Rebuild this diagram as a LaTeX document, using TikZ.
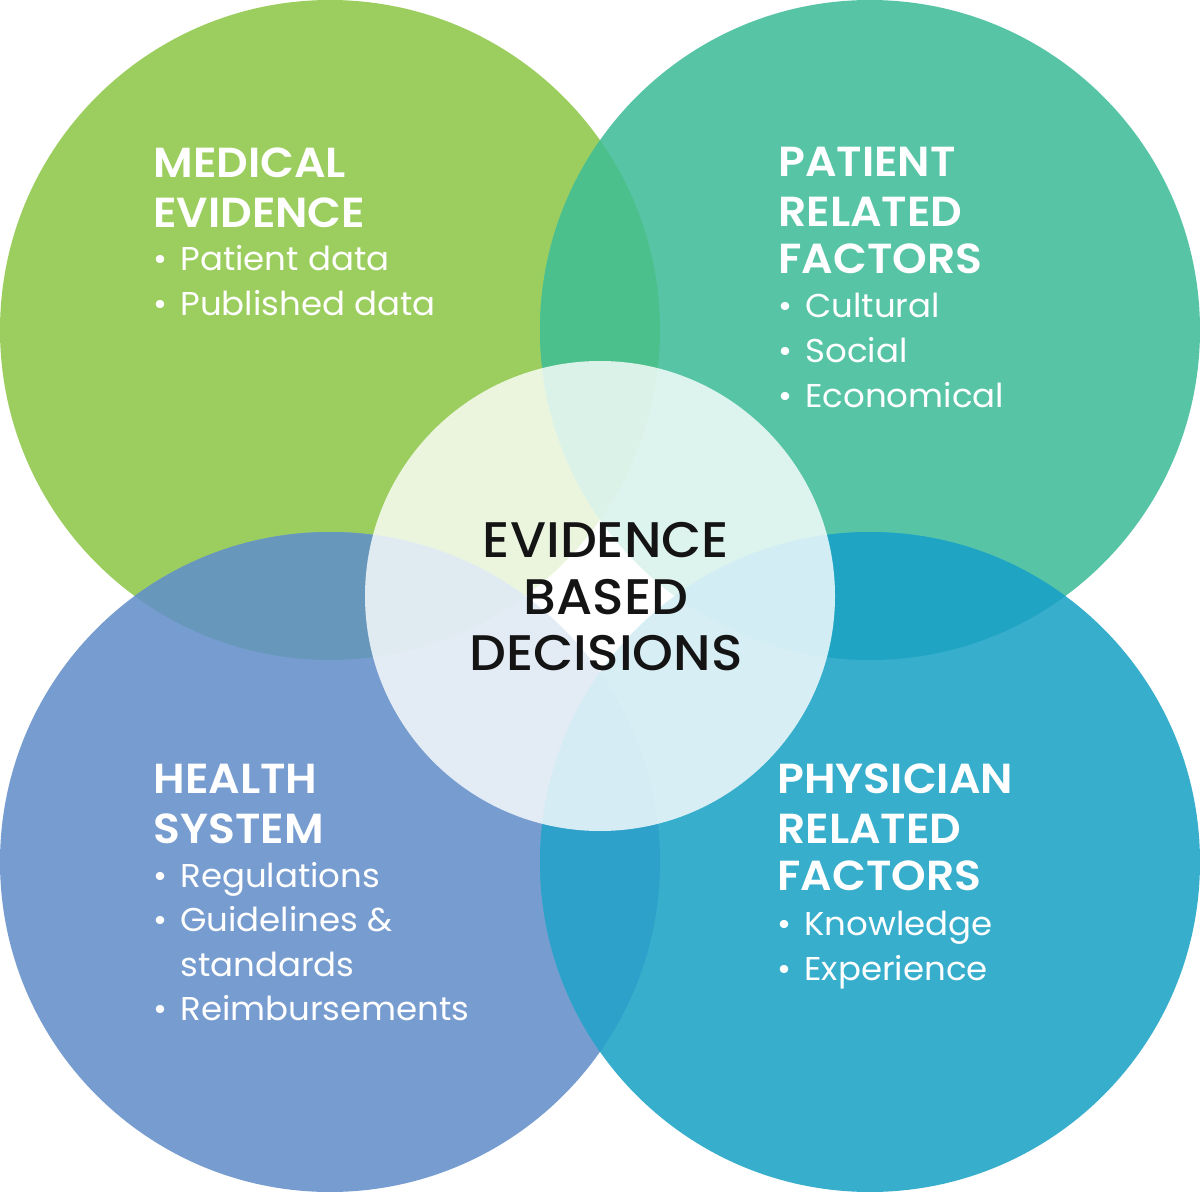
\documentclass[tikz,border=0pt]{standalone}
\usepackage{fontspec}
\setmainfont{Poppins}
\newfontfamily\headfont{Poppins SemiBold}[FakeStretch=1.05]
\newfontfamily\itemfont{Poppins}[FakeStretch=1.03]
\newfontfamily\medfont{Poppins Medium}[FakeStretch=1.04]
\definecolor{cgreen}{HTML}{9BCE5E}
\definecolor{cteal}{HTML}{57C5A5}
\definecolor{cblue}{HTML}{779DD0}
\definecolor{ccyan}{HTML}{36AECC}
\definecolor{cgt}{HTML}{4CC08C}
\definecolor{cgb}{HTML}{6897BC}
\definecolor{ctc}{HTML}{1FA5C3}
\definecolor{cbc}{HTML}{2EA1CA}
\tikzset{
  head/.style={anchor=base west, inner sep=0pt, text=white, font=\fontsize{21}{25}\headfont},
  item/.style={anchor=base west, inner sep=0pt, text=white, font=\fontsize{16.5}{20}\itemfont},
  ctr/.style={anchor=base, inner sep=0pt, text=black!92, font=\fontsize{25}{30}\medfont},
}
\newcommand{\bul}[1]{\makebox[13.5pt][l]{•}#1}
\begin{document}
\begin{tikzpicture}[x=0.5pt,y=-0.5pt]
\useasboundingbox (0,0) rectangle (1200,1192);
\coordinate (G) at (330,330);
\coordinate (T) at (870,330);
\coordinate (B) at (330,862);
\coordinate (C) at (870,862);
\coordinate (M) at (600,596);
\fill[cgreen] (G) circle[radius=165pt];
\fill[cteal] (T) circle[radius=165pt];
\fill[cblue] (B) circle[radius=165pt];
\fill[ccyan] (C) circle[radius=165pt];
\begin{scope}
  \clip (G) circle[radius=165pt];
  \fill[cgt] (T) circle[radius=165pt];
\end{scope}
\begin{scope}
  \clip (G) circle[radius=165pt];
  \fill[cgb] (B) circle[radius=165pt];
\end{scope}
\begin{scope}
  \clip (T) circle[radius=165pt];
  \fill[ctc] (C) circle[radius=165pt];
\end{scope}
\begin{scope}
  \clip (B) circle[radius=165pt];
  \fill[cbc] (C) circle[radius=165pt];
\end{scope}
\fill[white, opacity=0.8] (M) circle[radius=117.5pt];
% Medical evidence
\node[head] (g1) at (153,178) {MEDICAL};
\node[head] (g2) at (153,228) {EVIDENCE};
\node[item] (g3) at (153,271) {\bul{Patient data}};
\node[item] (g4) at (153,316) {\bul{Published data}};
% Patient related factors
\node[head] (t1) at (778,177) {PATIENT};
\node[head] (t2) at (778,227) {RELATED};
\node[head] (t3) at (778,274) {FACTORS};
\node[item] (t4) at (778,318) {\bul{Cultural}};
\node[item] (t5) at (778,363) {\bul{Social}};
\node[item] (t6) at (778,408) {\bul{Economical}};
% Health system
\node[head] (b1) at (153,793) {HEALTH};
\node[head] (b2) at (153,843) {SYSTEM};
\node[item] (b3) at (153,887) {\bul{Regulations}};
\node[item] (b4) at (153,931) {\bul{Guidelines \&}};
\node[item] (b5) at (180,976) {standards};
\node[item] (b6) at (153,1020) {\bul{Reimbursements}};
% Physician related factors
\node[head] (c1) at (777,793) {PHYSICIAN};
\node[head] (c2) at (777,843) {RELATED};
\node[head] (c3) at (777,890) {FACTORS};
\node[item] (c4) at (777,935) {\bul{Knowledge}};
\node[item] (c5) at (777,980) {\bul{Experience}};
% Center
\node[ctr] (m1) at (606,558) {EVIDENCE};
\node[ctr] (m2) at (606,614) {BASED};
\node[ctr] (m3) at (606,670) {DECISIONS};
\end{tikzpicture}
\end{document}
